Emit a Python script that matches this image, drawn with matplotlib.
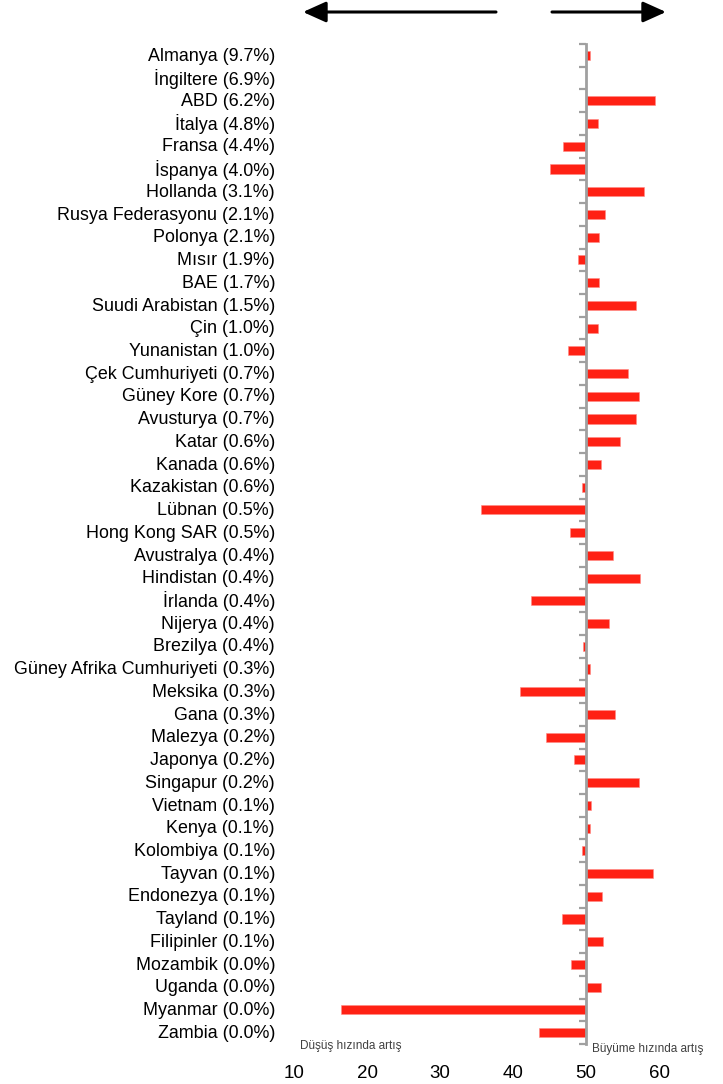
import numpy as np
import matplotlib
matplotlib.use("Agg")
import matplotlib.pyplot as plt
from matplotlib.patches import FancyArrowPatch
from matplotlib.transforms import blended_transform_factory

## Data (value axis is centred on 50)
countries = ["Almanya (9.7%)", "İngiltere (6.9%)", "ABD (6.2%)", "İtalya (4.8%)",
             "Fransa (4.4%)", "İspanya (4.0%)", "Hollanda (3.1%)", "Rusya Federasyonu (2.1%)",
             "Polonya (2.1%)", "Mısır (1.9%)", "BAE (1.7%)", "Suudi Arabistan (1.5%)",
             "Çin (1.0%)", "Yunanistan (1.0%)", "Çek Cumhuriyeti (0.7%)", "Güney Kore (0.7%)",
             "Avusturya (0.7%)", "Katar (0.6%)", "Kanada (0.6%)", "Kazakistan (0.6%)",
             "Lübnan (0.5%)", "Hong Kong SAR (0.5%)", "Avustralya (0.4%)", "Hindistan (0.4%)",
             "İrlanda (0.4%)", "Nijerya (0.4%)", "Brezilya (0.4%)", "Güney Afrika Cumhuriyeti (0.3%)",
             "Meksika (0.3%)", "Gana (0.3%)", "Malezya (0.2%)", "Japonya (0.2%)",
             "Singapur (0.2%)", "Vietnam (0.1%)", "Kenya (0.1%)", "Kolombiya (0.1%)",
             "Tayvan (0.1%)", "Endonezya (0.1%)", "Tayland (0.1%)", "Filipinler (0.1%)",
             "Mozambik (0.0%)", "Uganda (0.0%)", "Myanmar (0.0%)", "Zambia (0.0%)"]
values = [50.5, 50.0, 59.5, 51.6,
          46.8, 45.1, 58.0, 52.6,
          51.8, 48.9, 51.8, 56.9,
          51.6, 47.5, 55.8, 57.2,
          56.9, 54.6, 52.0, 49.4,
          35.6, 47.8, 53.7, 57.4,
          42.4, 53.1, 49.6, 50.5,
          41.0, 54.0, 44.5, 48.3,
          57.3, 50.7, 50.5, 49.4,
          59.2, 52.2, 46.7, 52.3,
          47.9, 52.0, 16.5, 43.5]
xticks = [10, 20, 30, 40, 50, 60]
base = 50

W, H = 723, 1084
fig = plt.figure(figsize=(W / 100, H / 100), dpi=100)
ax = fig.add_axes([294 / W, 1 - 1044 / H, (700 - 294) / W, 1000 / H])

n = len(countries)
y = np.arange(n)
vals = np.array(values)
ax.barh(y, vals - base, left=base, height=0.4, color="#ff2114", edgecolor="#ff8a84", linewidth=0.4, zorder=3)

ax.set_xlim(10, 10 + (700 - 294) / 7.3)
ax.set_ylim(n - 0.5, -0.5)

## spine on the 50 line, ticks between categories
for s in ["top", "right", "bottom"]:
    ax.spines[s].set_visible(False)
ax.spines["left"].set_position(("data", base))
ax.spines["left"].set_color("#a0a0a0")
ax.spines["left"].set_linewidth(2)
ax.spines["left"].set_zorder(4)
ax.set_yticks(np.arange(n + 1) - 0.5)
ax.set_yticklabels([])
ax.tick_params(axis="y", direction="out", length=5, width=1.6, color="#a0a0a0")

ax.set_xticks(xticks)
ax.tick_params(axis="x", length=0, pad=15, labelsize=13.5)

fnt = ["Liberation Sans", "DejaVu Sans"]
for lab in ax.get_xticklabels():
    lab.set_family(fnt)

## country labels
tr = blended_transform_factory(fig.transFigure, ax.transData)
for i, c in enumerate(countries):
    ax.text(275 / W, i + 0.03, c, transform=tr, ha="right", va="center", fontsize=12.9, family=fnt)

## bottom captions
fig.text(300 / W, 1 - 1046 / H, "Düşüş hızında artış", ha="left", va="center", fontsize=8.5, color="#404040", family=fnt)
fig.text(592 / W, 1 - 1049 / H, "Büyüme hızında artış", ha="left", va="center", fontsize=8.5, color="#404040", family=fnt)

## direction arrows
arr = dict(arrowstyle="-|>,head_length=1.0,head_width=0.45", color="black", lw=2.2, shrinkA=0, shrinkB=0)
fig.add_artist(FancyArrowPatch((496 / W, 1 - 12 / H), (303 / W, 1 - 12 / H),
                               transform=fig.transFigure, mutation_scale=14, **arr))
fig.add_artist(FancyArrowPatch((552 / W, 1 - 12 / H), (666 / W, 1 - 12 / H),
                               transform=fig.transFigure, mutation_scale=14, **arr))

fig.savefig("out.png", dpi=100)
